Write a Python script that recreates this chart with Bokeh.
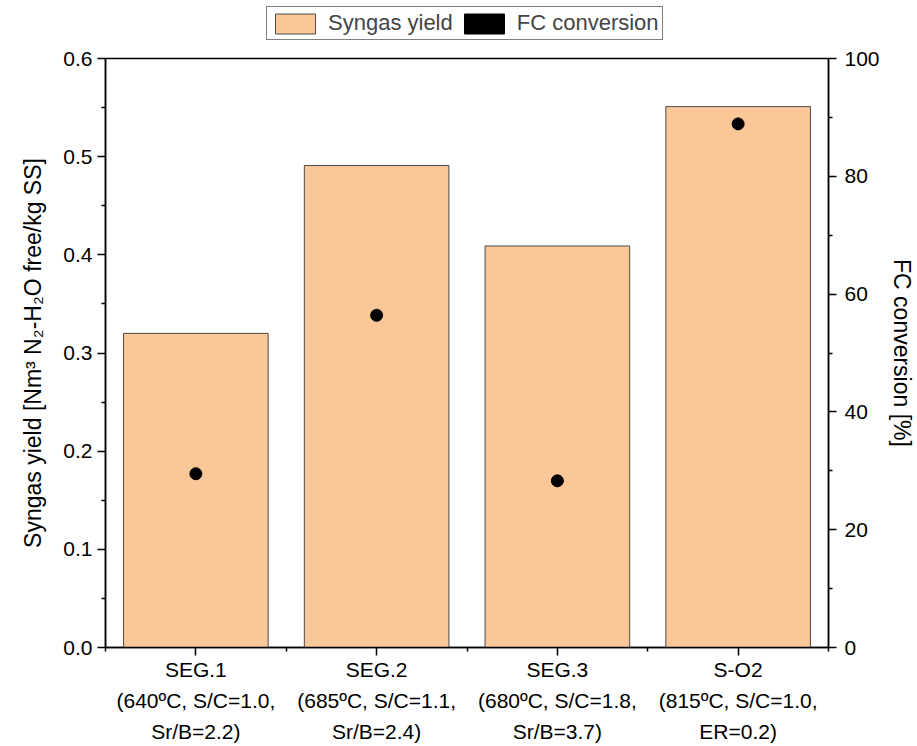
from bokeh.plotting import figure
from bokeh.layouts import column
from bokeh.models import (LinearAxis, Range1d, FixedTicker, Legend, LegendItem,
                          ColumnDataSource)
from bokeh.embed import file_html
from bokeh.resources import INLINE

categories = ["SEG.1\n(640ºC, S/C=1.0,\nSr/B=2.2)",
              "SEG.2\n(685ºC, S/C=1.1,\nSr/B=2.4)",
              "SEG.3\n(680ºC, S/C=1.8,\nSr/B=3.7)",
              "S-O2\n(815ºC, S/C=1.0,\nER=0.2)"]
syngas_yield = [0.320, 0.491, 0.409, 0.551]
fc_conversion = [29.5, 56.4, 28.3, 88.9]

FONT = "Liberation Sans"
BAR_COLOR = "#FAC898"
xs = [i + 1 for i in range(len(categories))]
src = ColumnDataSource(dict(x=xs, y=syngas_yield, fc=fc_conversion))

# ---- legend strip ----
lf = figure(width=917, height=48, output_backend="svg", toolbar_location=None,
            x_range=Range1d(0, 1), y_range=Range1d(0, 1),
            x_axis_location=None, y_axis_location=None,
            min_border_left=0, min_border_right=0, min_border_top=0,
            min_border_bottom=0)
lf.xgrid.visible = False
lf.ygrid.visible = False
lf.outline_line_color = None
lb = lf.vbar(x="x", top="y", width=0.8, source=src, fill_color=BAR_COLOR,
             line_color="#4a4a4a", line_width=1, visible=False)
lp = lf.vbar(x="x", top="y", width=0.8, source=src, fill_color="black",
             line_color="black", visible=False)
legend = Legend(items=[LegendItem(label="Syngas yield", renderers=[lb]),
                       LegendItem(label="FC conversion", renderers=[lp])],
                orientation="horizontal", location=(161, 8),
                label_text_font=FONT, label_text_font_size="22px",
                glyph_width=50, glyph_height=25, spacing=6, padding=3,
                label_standoff=8, border_line_color="black", border_line_width=1,
                inactive_fill_alpha=0, margin=0)
lf.add_layout(legend, "center")

# ---- main chart ----
p = figure(width=917, height=698, output_backend="svg", toolbar_location=None,
           x_range=Range1d(0.5, len(categories) + 0.5), y_range=Range1d(0, 0.6),
           min_border_left=105, min_border_right=89, min_border_top=10,
           min_border_bottom=99)
p.extra_y_ranges = {"fc": Range1d(0, 100)}
p.xgrid.visible = False
p.ygrid.visible = False
p.outline_line_color = "black"
p.outline_line_width = 1.5
p.background_fill_color = "white"
p.border_fill_color = "white"

bars = p.vbar(x="x", top="y", width=0.8, source=src, fill_color=BAR_COLOR,
              line_color="#4a4a4a", line_width=1)
pts = p.scatter(x="x", y="fc", source=src, y_range_name="fc", size=12,
                fill_color="black", line_color="black")

def style_axis(ax):
    ax.axis_line_width = 1.5
    ax.axis_line_color = "black"
    ax.major_tick_in = 0
    ax.minor_tick_in = 0
    ax.major_tick_out = 8
    ax.minor_tick_out = 4
    ax.major_tick_line_width = 1.5
    ax.minor_tick_line_width = 1.5
    ax.major_label_text_font = FONT
    ax.major_label_text_font_size = "21px"
    ax.major_label_text_color = "black"
    ax.axis_label_text_font = FONT
    ax.axis_label_text_font_size = "23px"
    ax.axis_label_text_font_style = "normal"
    ax.axis_label_text_color = "black"

xa = p.xaxis[0]
style_axis(xa)
xa.ticker = FixedTicker(ticks=xs, minor_ticks=[x - 0.5 for x in xs] + [xs[-1] + 0.5])
xa.major_label_overrides = {x: c for x, c in zip(xs, categories)}
xa.major_label_standoff = 2
xa.major_label_text_line_height = 1.35

ya = p.yaxis[0]
style_axis(ya)
ya.ticker = FixedTicker(ticks=[0, 0.1, 0.2, 0.3, 0.4, 0.5, 0.6],
                        minor_ticks=[0.05, 0.15, 0.25, 0.35, 0.45, 0.55])
ya.major_label_overrides = {0: "0.0"}
ya.axis_label = "Syngas yield [Nm³ N₂-H₂O free/kg SS]"
ya.axis_label_standoff = 14

ra = LinearAxis(y_range_name="fc")
style_axis(ra)
ra.ticker = FixedTicker(ticks=[0, 20, 40, 60, 80, 100],
                        minor_ticks=[10, 30, 50, 70, 90])
ra.axis_label = "FC conversion [%]"
ra.axis_label_standoff = 6
ra.major_label_standoff = 8
p.add_layout(ra, "right")

layout = column(lf, p, spacing=0)
open("out.html", "w").write(file_html(layout, INLINE))
